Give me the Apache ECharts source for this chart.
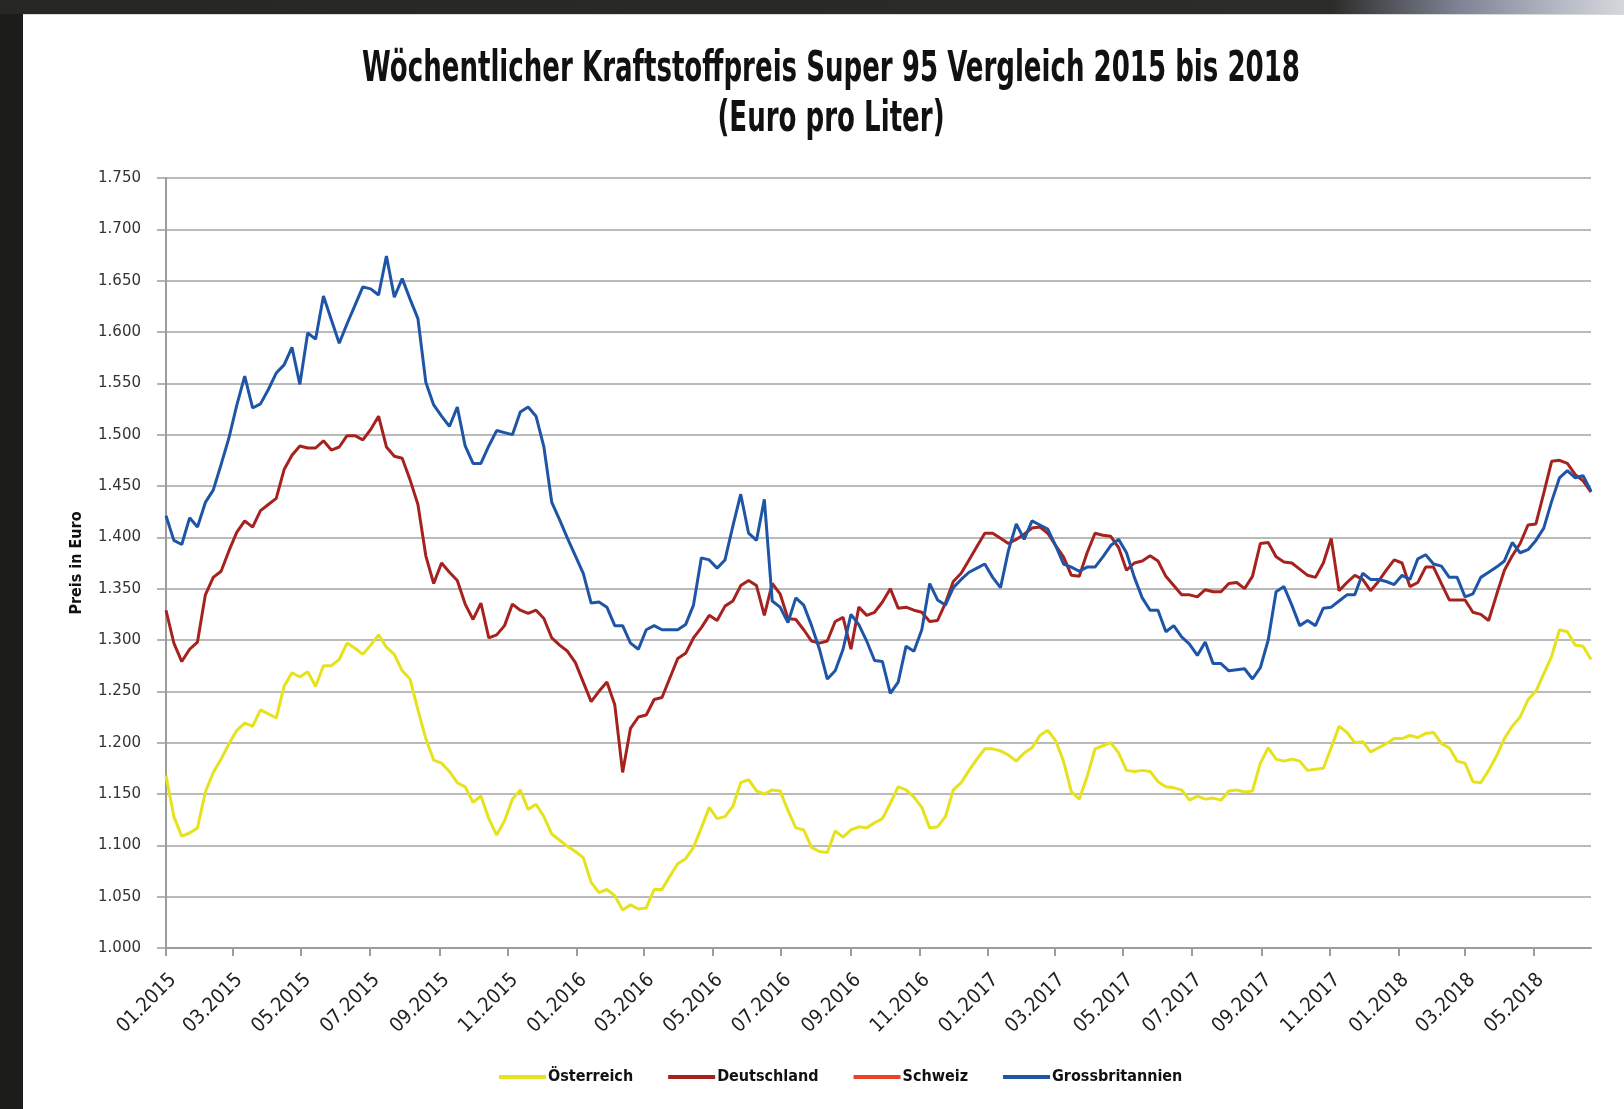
<!DOCTYPE html>
<html>
<head>
<meta charset="utf-8">
<script src="https://cdn.jsdelivr.net/npm/echarts@6/dist/echarts.min.js"></script>
<style>
  html, body { margin: 0; padding: 0; width: 1624px; height: 1109px; overflow: hidden; background: #1c1c1a; }
  #topbar { position: absolute; left: 0; top: 0; width: 1624px; height: 14px;
    background: linear-gradient(to right, #262624 0%, #2c2c29 82%, #7f8596 90%, #b5b9c4 96%, #d5d7dd 100%); }
  #panel { position: absolute; left: 23px; top: 14px; right: 0; bottom: 0; background: #fff; border-top: 1px solid #d8d8d8; }
  #chart { position: absolute; left: 0; top: 0; width: 1624px; height: 1109px; }
</style>
</head>
<body>
<div id="topbar"></div>
<div id="panel"></div>
<div id="chart"></div>
<script>
// weekly prices, first week 05.01.2015
const startDate = [2015, 0, 5];

const oesterreich = [
  1.168, 1.128, 1.109, 1.112, 1.117, 1.152, 1.171, 1.184, 1.199, 1.212,
  1.219, 1.216, 1.232, 1.228, 1.224, 1.255, 1.268, 1.264, 1.269, 1.255,
  1.275, 1.275, 1.281, 1.297, 1.292, 1.286, 1.295, 1.305, 1.293, 1.286,
  1.270, 1.262, 1.232, 1.204, 1.183, 1.180, 1.172, 1.161, 1.157, 1.142,
  1.148, 1.126, 1.110, 1.124, 1.145, 1.154,
  1.135, 1.140, 1.128, 1.111, 1.105, 1.099, 1.094, 1.088, 1.064, 1.054,
  1.057, 1.051, 1.037, 1.042, 1.038, 1.039, 1.057, 1.057, 1.070, 1.082,
  1.087, 1.098, 1.117, 1.137, 1.126, 1.128, 1.138, 1.161, 1.164, 1.153,
  1.150, 1.154, 1.153, 1.134, 1.117, 1.115, 1.098, 1.094, 1.093, 1.114,
  1.108, 1.115, 1.118, 1.117,
  1.122, 1.126, 1.141, 1.157, 1.154, 1.147, 1.137, 1.117, 1.118, 1.128,
  1.154, 1.161, 1.173, 1.184, 1.194, 1.194, 1.192, 1.188, 1.182, 1.190,
  1.195, 1.207, 1.212, 1.202, 1.182, 1.152, 1.145, 1.167, 1.194, 1.197,
  1.200, 1.190, 1.173, 1.172, 1.173, 1.172, 1.162, 1.157, 1.156, 1.154,
  1.144, 1.148, 1.145, 1.146,
  1.144, 1.153, 1.154, 1.152, 1.153, 1.180, 1.195, 1.184, 1.182, 1.184,
  1.182, 1.173, 1.174, 1.175, 1.195, 1.216, 1.210, 1.200, 1.201, 1.191,
  1.195, 1.199, 1.204, 1.204, 1.207, 1.205, 1.209, 1.210, 1.199, 1.195,
  1.182, 1.180, 1.162, 1.161, 1.173, 1.187, 1.204, 1.216, 1.225, 1.242,
  1.250, 1.267, 1.284, 1.310, 1.308, 1.295, 1.294, 1.281
];

const deutschland = [
  1.329, 1.297, 1.279, 1.291, 1.298, 1.344, 1.361, 1.367, 1.387, 1.405,
  1.416, 1.410, 1.426, 1.432, 1.438, 1.466, 1.480, 1.489, 1.487, 1.487,
  1.494, 1.485, 1.488, 1.499, 1.499, 1.495, 1.505, 1.518, 1.488, 1.479,
  1.477, 1.456, 1.432, 1.382, 1.355, 1.375, 1.366, 1.358, 1.335, 1.320,
  1.336, 1.302, 1.305, 1.314, 1.335, 1.329,
  1.326, 1.329, 1.321, 1.302, 1.295, 1.289, 1.278, 1.259, 1.240, 1.250,
  1.259, 1.237, 1.171, 1.214, 1.225, 1.227, 1.242, 1.244, 1.263, 1.282,
  1.287, 1.302, 1.312, 1.324, 1.319, 1.333, 1.338, 1.353, 1.358, 1.353,
  1.324, 1.355, 1.345, 1.321, 1.320, 1.310, 1.299, 1.297, 1.299, 1.318,
  1.322, 1.291, 1.332, 1.324,
  1.327, 1.337, 1.350, 1.331, 1.332, 1.329, 1.327, 1.318, 1.319, 1.336,
  1.357, 1.365, 1.378, 1.391, 1.404, 1.404, 1.399, 1.394, 1.398, 1.403,
  1.409, 1.410, 1.404, 1.392, 1.381, 1.363, 1.362, 1.385, 1.404, 1.402,
  1.401, 1.390, 1.368, 1.375, 1.377, 1.382, 1.377, 1.362, 1.353, 1.344,
  1.344, 1.342, 1.349, 1.347,
  1.347, 1.355, 1.356, 1.350, 1.362, 1.394, 1.395, 1.381, 1.376, 1.375,
  1.369, 1.363, 1.361, 1.375, 1.399, 1.348, 1.356, 1.363, 1.359, 1.348,
  1.357, 1.368, 1.378, 1.375, 1.352, 1.356, 1.371, 1.371, 1.355, 1.339,
  1.339, 1.339, 1.327, 1.325, 1.319, 1.344, 1.368, 1.382, 1.394, 1.412,
  1.413, 1.443, 1.474, 1.475, 1.472, 1.461, 1.455, 1.444
];

// no values drawn for Schweiz in the original, only the legend entry
const schweiz = [];

const grossbritannien = [
  1.421, 1.397, 1.393, 1.419, 1.410, 1.434, 1.446, 1.471, 1.497, 1.529,
  1.557, 1.526, 1.530, 1.544, 1.560, 1.568, 1.585, 1.549, 1.599, 1.593,
  1.635, 1.612, 1.589, 1.608, 1.626, 1.644, 1.642, 1.636, 1.674, 1.634,
  1.652, 1.632, 1.613, 1.551, 1.529, 1.518, 1.508, 1.527, 1.489, 1.472,
  1.472, 1.489, 1.504, 1.502, 1.500, 1.522,
  1.527, 1.518, 1.488, 1.434, 1.417, 1.399, 1.382, 1.365, 1.336, 1.337,
  1.332, 1.314, 1.314, 1.297, 1.291, 1.310, 1.314, 1.310, 1.310, 1.310,
  1.315, 1.334, 1.380, 1.378, 1.370, 1.378, 1.411, 1.442, 1.404, 1.397,
  1.437, 1.338, 1.332, 1.317, 1.341, 1.334, 1.314, 1.291, 1.262, 1.270,
  1.291, 1.325, 1.315, 1.299,
  1.280, 1.279, 1.248, 1.259, 1.294, 1.289, 1.310, 1.355, 1.339, 1.334,
  1.351, 1.359, 1.366, 1.370, 1.374, 1.361, 1.351, 1.387, 1.413, 1.398,
  1.416, 1.412, 1.408, 1.392, 1.374, 1.371, 1.367, 1.371, 1.371, 1.381,
  1.392, 1.398, 1.385, 1.361, 1.341, 1.329, 1.329, 1.308, 1.314, 1.303,
  1.296, 1.285, 1.298, 1.277,
  1.277, 1.270, 1.271, 1.272, 1.262, 1.273, 1.300, 1.347, 1.352, 1.334,
  1.314, 1.319, 1.314, 1.331, 1.332, 1.338, 1.344, 1.344, 1.365, 1.359,
  1.359, 1.357, 1.354, 1.363, 1.359, 1.379, 1.383, 1.374, 1.372, 1.361,
  1.361, 1.342, 1.345, 1.361, 1.366, 1.371, 1.377, 1.395, 1.385, 1.388,
  1.397, 1.409, 1.435, 1.458, 1.465, 1.458, 1.460, 1.445
];

const tickDates = [
  '2015-01-05', '2015-03-05', '2015-05-05', '2015-07-05', '2015-09-05', '2015-11-05',
  '2016-01-05', '2016-03-05', '2016-05-05', '2016-07-05', '2016-09-05', '2016-11-05',
  '2017-01-05', '2017-03-05', '2017-05-05', '2017-07-05', '2017-09-05', '2017-11-05',
  '2018-01-05', '2018-03-05', '2018-05-05'
];

const narrow = '"Liberation Sans Narrow", "DejaVu Sans Condensed", "Liberation Sans", sans-serif';

// x values are days counted from the first week
const DAY = 86400000;
const t0 = Date.UTC(startDate[0], startDate[1], startDate[2]);

function dayOffset(s) {
  const p = s.split('-').map(Number);
  return Math.round((Date.UTC(p[0], p[1] - 1, p[2]) - t0) / DAY);
}

const weekDays = oesterreich.map((v, i) => 7 * i);
const tickValues = tickDates.map(dayOffset);

function pairs(vals) {
  return vals.map((v, i) => [weekDays[i], v]);
}

function monthLabel(d) {
  const date = new Date(t0 + d * DAY);
  const m = date.getUTCMonth() + 1;
  return (m < 10 ? '0' + m : m) + '.' + date.getUTCFullYear();
}

const chart = echarts.init(document.getElementById('chart'));

const lineSeries = (name, vals, color) => ({
  name: name,
  type: 'line',
  data: pairs(vals),
  showSymbol: false,
  symbol: 'none',
  color: color,
  lineStyle: { width: 3, color: color },
  animation: false
});

chart.setOption({
  animation: false,
  graphic: [
    {
      type: 'text', x: 831, y: 70, scaleX: 0.69,
      style: {
        text: 'Wöchentlicher Kraftstoffpreis Super 95 Vergleich 2015 bis 2018',
        font: 'bold 42px ' + narrow, fill: '#111',
        textAlign: 'center', textVerticalAlign: 'middle'
      }
    },
    {
      type: 'text', x: 831, y: 120, scaleX: 0.69,
      style: {
        text: '(Euro pro Liter)',
        font: 'bold 42px ' + narrow, fill: '#111',
        textAlign: 'center', textVerticalAlign: 'middle'
      }
    }
  ],
  grid: { left: 166, top: 178, width: 1425, height: 770, containLabel: false },
  legend: {
    data: ['Österreich', 'Deutschland', 'Schweiz', 'Grossbritannien'],
    icon: 'rect',
    left: 494,
    top: 1064,
    itemWidth: 47,
    itemHeight: 4,
    itemGap: 35,
    textStyle: { fontFamily: narrow, fontSize: 16, fontWeight: 'bold', color: '#111', padding: [0, 0, 0, -3] }
  },
  xAxis: {
    type: 'value',
    min: 0,
    max: weekDays[weekDays.length - 1],
    axisLine: { lineStyle: { color: '#9c9c9c', width: 2 } },
    axisTick: { show: true, customValues: tickValues, length: 8, lineStyle: { color: '#9c9c9c', width: 2 } },
    axisLabel: {
      customValues: tickValues,
      formatter: monthLabel,
      rotate: 45,
      margin: 22,
      verticalAlign: 'top',
      fontFamily: narrow,
      fontSize: 20,
      color: '#222'
    },
    splitLine: { show: false }
  },
  yAxis: {
    type: 'value',
    min: 1,
    max: 1.75,
    interval: 0.05,
    name: 'Preis in Euro',
    nameLocation: 'middle',
    nameRotate: 90,
    nameGap: 81,
    nameTextStyle: { fontFamily: narrow, fontSize: 16, fontWeight: 'bold', color: '#111' },
    axisLine: { show: true, lineStyle: { color: '#9c9c9c', width: 2 } },
    axisTick: { show: true, length: 9, lineStyle: { color: '#9c9c9c', width: 1.5 } },
    axisLabel: {
      formatter: v => v.toFixed(3),
      margin: 25,
      fontFamily: '"DejaVu Sans", Verdana, sans-serif',
      fontSize: 15,
      color: '#333'
    },
    splitLine: { lineStyle: { color: '#a3a3a3', width: 1.5 } }
  },
  series: [
    lineSeries('Österreich', oesterreich, '#e6e21e'),
    lineSeries('Deutschland', deutschland, '#a6221f'),
    lineSeries('Schweiz', schweiz, '#ea432b'),
    lineSeries('Grossbritannien', grossbritannien, '#1f55a6')
  ]
});
</script>
</body>
</html>
